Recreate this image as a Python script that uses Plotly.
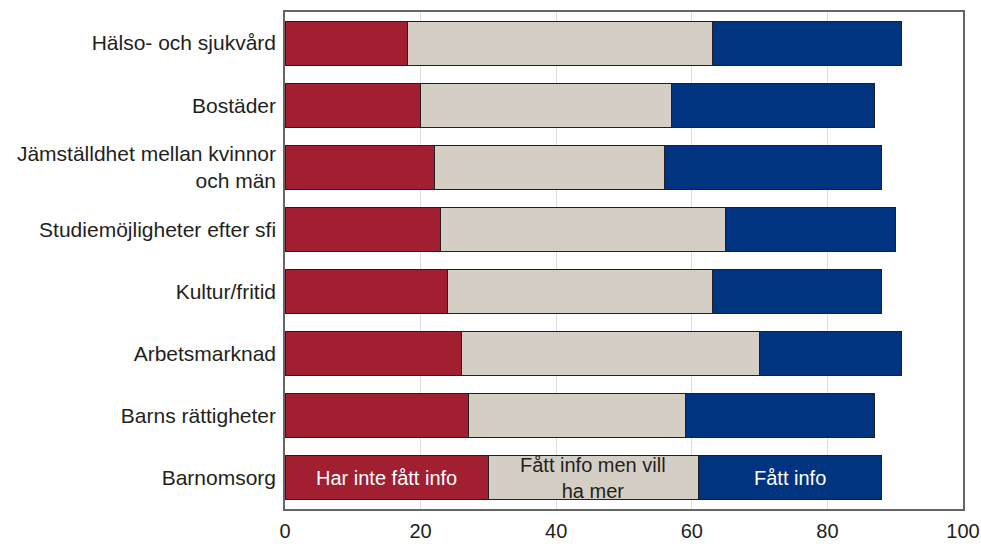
import plotly.graph_objects as go

categories = ["Hälso- och sjukvård", "Bostäder", "Jämställdhet mellan kvinnor<br>och män",
              "Studiemöjligheter efter sfi", "Kultur/fritid", "Arbetsmarknad",
              "Barns rättigheter", "Barnomsorg"]
har_inte = [18, 20, 22, 23, 24, 26, 27, 30]
vill_ha_mer = [45, 37, 34, 42, 39, 44, 32, 31]
fatt_info = [28, 30, 32, 25, 25, 21, 28, 27]
series_names = ["Har inte fått info", "Fått info men vill<br>ha mer", "Fått info"]
x_ticks = [0, 20, 40, 60, 80, 100]

colors = ["#A21F32", "#D4CEC4", "#003380"]
text_colors = ["white", "#231F20", "white"]
font = "Liberation Sans, Arial, sans-serif"

fig = go.Figure()
for vals, name, c in zip([har_inte, vill_ha_mer, fatt_info], series_names, colors):
    fig.add_trace(go.Bar(y=categories, x=vals, orientation="h", name=name,
                         marker=dict(color=c, line=dict(color="#231F20", width=1))))

# Labels inside the last row (Barnomsorg)
last = len(categories) - 1
start = 0
for vals, name, tc in zip([har_inte, vill_ha_mer, fatt_info], series_names, text_colors):
    v = vals[last]
    fig.add_annotation(x=start + v / 2, y=categories[last], text=name, showarrow=False,
                       font=dict(family=font, size=20, color=tc), xref="x", yref="y")
    start += v

fig.update_layout(
    barmode="stack", bargap=0.29, showlegend=False,
    width=981, height=544,
    margin=dict(l=285, r=18, t=12, b=35, autoexpand=False),
    paper_bgcolor="white", plot_bgcolor="white",
    font=dict(family=font, size=21, color="#231F20"),
)
fig.update_xaxes(range=[0, 100], tickvals=x_ticks, showgrid=True, gridcolor="#DDDDDD",
                 gridwidth=1, showline=True, linecolor="#666666", linewidth=1.5, mirror=True,
                 ticks="", zeroline=False, tickfont=dict(size=20), automargin=False,
                 ticklabelstandoff=3)
fig.update_yaxes(autorange="reversed", showline=True, linecolor="#666666", linewidth=1.5,
                 mirror=True, ticks="", ticklen=0, tickfont=dict(size=21), automargin=False,
                 ticklabelstandoff=3)

fig.write_html("out.html", config={"displayModeBar": False},
               post_script="document.body.style.margin='0';document.body.style.overflow='hidden';")
